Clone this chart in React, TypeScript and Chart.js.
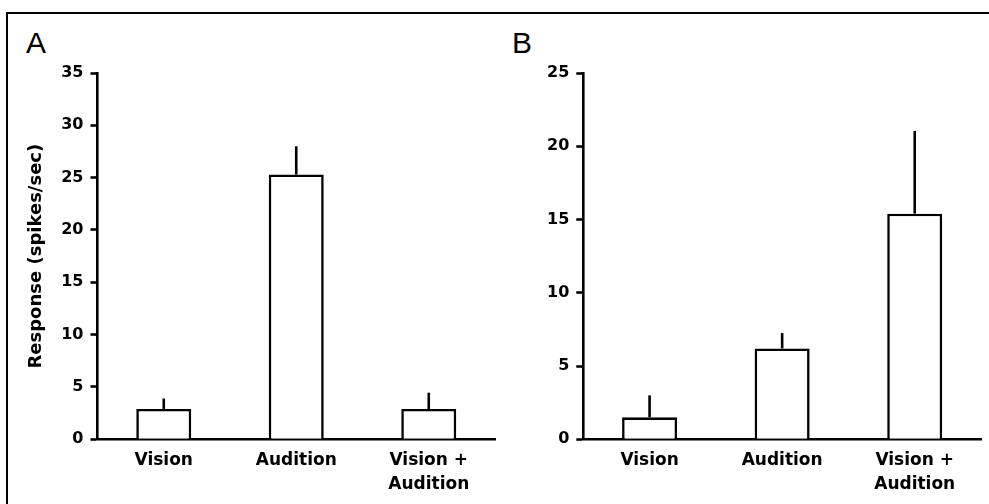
import { useEffect, useRef } from "react";
import { Chart, registerables, ChartConfiguration, Plugin } from "chart.js";

Chart.register(...registerables);

// shared categories for both panels
const categories = [["Vision"], ["Audition"], ["Vision +", "Audition"]];

// panel A
const responseA = [2.9, 25.3, 2.9];
const errorA = [1.0, 2.7, 1.55];
const yMaxA = 35;

// panel B
const responseB = [1.5, 6.2, 15.4];
const errorB = [1.5, 1.05, 5.65];
const yMaxB = 25;

const yStep = 5;
const yTitle = "Response (spikes/sec)";

const axisFont = "'DejaVu Sans', 'Liberation Sans', Arial, sans-serif";
const lineW = 2.6;

// only the upper whisker, no cap
const errorBars: Plugin<"bar"> = {
  id: "errorBars",
  afterDatasetsDraw(chart, _args, opts: any) {
    const errs: number[] = opts.errors || [];
    const values = chart.data.datasets[0].data as number[];
    const meta = chart.getDatasetMeta(0);
    const yScale = chart.scales.y;
    const ctx = chart.ctx;
    ctx.save();
    ctx.strokeStyle = "#000";
    ctx.lineWidth = lineW;
    meta.data.forEach((bar: any, i: number) => {
      const top = yScale.getPixelForValue(values[i] + errs[i]);
      ctx.beginPath();
      ctx.moveTo(bar.x, bar.y);
      ctx.lineTo(bar.x, top);
      ctx.stroke();
    });
    ctx.restore();
  },
};

function makeConfig(
  values: number[],
  errors: number[],
  yMax: number,
  padLeft: number,
  padRight: number,
  showTitle: boolean
): ChartConfiguration<"bar"> {
  return {
    type: "bar",
    data: {
      labels: categories,
      datasets: [
        {
          data: values,
          backgroundColor: "#fff",
          borderColor: "#000",
          borderWidth: lineW,
          barPercentage: 0.415,
          categoryPercentage: 1,
        },
      ],
    },
    options: {
      responsive: false,
      animation: false,
      layout: {
        padding: { left: padLeft, right: padRight, top: 73, bottom: 0 },
      },
      plugins: {
        legend: { display: false },
        tooltip: { enabled: false },
        errorBars: { errors },
      } as any,
      scales: {
        x: {
          grid: { display: false, drawTicks: false },
          border: { display: true, color: "#000", width: lineW },
          ticks: {
            padding: 9,
            color: "#000",
            maxRotation: 0,
            autoSkip: false,
            font: { family: axisFont, size: 17, weight: "bold", lineHeight: 1.42 },
          },
          afterFit: (s: any) => {
            s.height = 64.7;
          },
        },
        y: {
          min: 0,
          max: yMax,
          ticks: {
            stepSize: yStep,
            padding: 7,
            color: "#000",
            font: { family: axisFont, size: 16, weight: "bold" },
          },
          grid: {
            drawOnChartArea: false,
            drawTicks: true,
            tickLength: 7,
            tickWidth: lineW,
            tickColor: "#000",
            color: "#000",
          },
          border: { display: true, color: "#000", width: lineW },
          title: {
            display: showTitle,
            text: yTitle,
            color: "#000",
            padding: { top: 8, bottom: 0 },
            font: { family: axisFont, size: 18, weight: "bold" },
          },
          afterFit: (s: any) => {
            s.width = 80;
          },
        },
      },
    },
    plugins: [errorBars],
  };
}

function Panel({
  values,
  errors,
  yMax,
  padLeft,
  padRight,
  showTitle,
}: {
  values: number[];
  errors: number[];
  yMax: number;
  padLeft: number;
  padRight: number;
  showTitle: boolean;
}) {
  const canvasRef = useRef<HTMLCanvasElement>(null);

  useEffect(() => {
    if (!canvasRef.current) return;
    const chart = new Chart(
      canvasRef.current,
      makeConfig(values, errors, yMax, padLeft, padRight, showTitle)
    );
    return () => chart.destroy();
  }, [values, errors, yMax, padLeft, padRight, showTitle]);

  return (
    <canvas
      ref={canvasRef}
      width={989}
      height={504}
      style={{ position: "absolute", left: 0, top: 0, width: 989, height: 504 }}
    />
  );
}

const letterStyle: React.CSSProperties = {
  position: "absolute",
  top: 28,
  fontFamily: "'Liberation Sans', Arial, sans-serif",
  fontSize: 30,
  lineHeight: "30px",
  color: "#000",
};

export default function App() {
  return (
    <div
      style={{
        position: "fixed",
        left: 0,
        top: 0,
        width: 989,
        height: 504,
        background: "#fff",
        overflow: "hidden",
      }}
    >
      <div
        style={{
          position: "absolute",
          left: 6,
          top: 12,
          width: 1000,
          height: 600,
          borderTop: "2px solid #000",
          borderLeft: "2px solid #000",
        }}
      />
      <div style={{ ...letterStyle, left: 26 }}>A</div>
      <div style={{ ...letterStyle, left: 512 }}>B</div>
      <Panel values={responseA} errors={errorA} yMax={yMaxA} padLeft={17.5} padRight={494} showTitle={true} />
      <Panel values={responseB} errors={errorB} yMax={yMaxB} padLeft={503.3} padRight={8} showTitle={false} />
    </div>
  );
}
